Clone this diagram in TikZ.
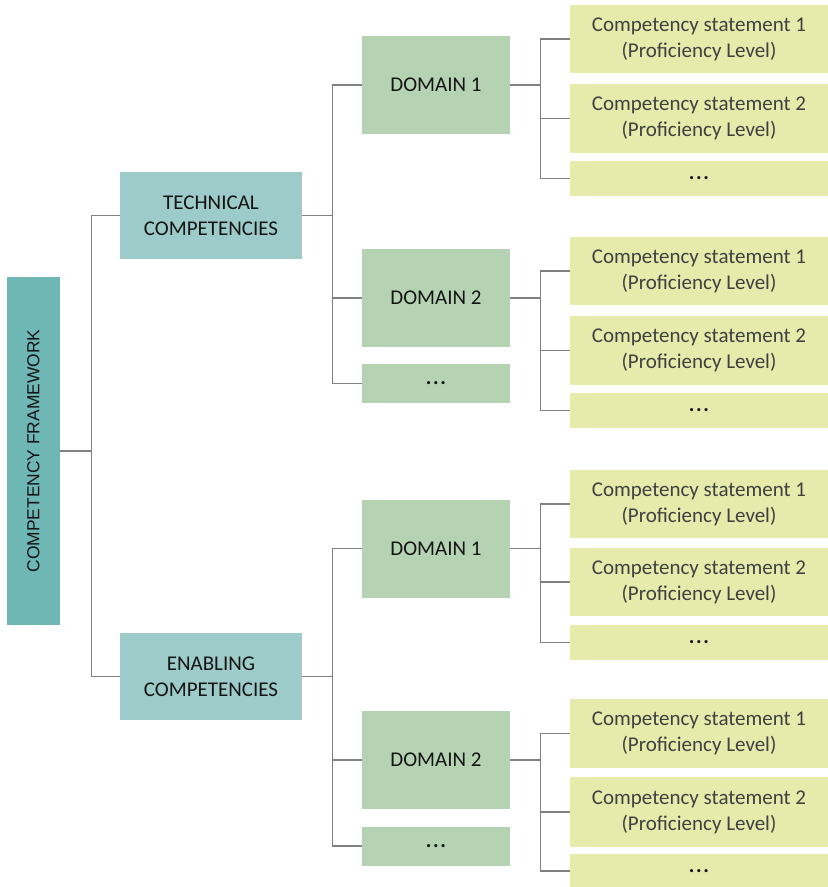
\documentclass[tikz,border=0pt]{standalone}
\usepackage{fontspec}
\setmainfont{Carlito}
\newfontfamily\arialf{Liberation Sans}
\definecolor{rootfill}{RGB}{111,183,180}
\definecolor{catfill}{RGB}{156,203,201}
\definecolor{domfill}{RGB}{181,211,179}
\definecolor{stmfill}{RGB}{230,235,172}
\definecolor{conncol}{RGB}{128,128,128}
\definecolor{txtdark}{RGB}{20,20,20}
\definecolor{txtgray}{RGB}{64,64,64}
\newcommand\mydots{\textbf{.\kern1.6pt.\kern1.6pt.}}
\tikzset{
  base/.style={draw=none, inner sep=0pt, font=\fontsize{21}{26}\selectfont},
  catbox/.style={base, align=center, fill=catfill, minimum width=182pt, minimum height=87pt, text=txtdark},
  dombox/.style={base, fill=domfill, minimum width=148pt, minimum height=98pt, text=txtdark},
  domdots/.style={dombox, minimum height=39pt},
  stmbox/.style={base, align=center, fill=stmfill, minimum width=258pt, minimum height=68pt, text=txtgray},
  stmdots/.style={base, fill=stmfill, minimum width=258pt, minimum height=35pt, text=txtdark},
  conn/.style={draw=conncol, line width=1.2pt}
}
\begin{document}
\begin{tikzpicture}[x=1pt,y=-1pt]
\useasboundingbox (0,0) rectangle (828,887);
% root (rotated: width/height swapped in rotated frame)
\node[base, fill=rootfill, minimum width=348pt, minimum height=53pt, rotate=90, text=txtdark, font=\arialf\fontsize{17.4}{21}\selectfont] (root) at (33.5,451) {COMPETENCY FRAMEWORK};
\node[catbox] (tech) at (211,215.5) {TECHNICAL\\COMPETENCIES};
\node[catbox] (enab) at (211,676.5) {ENABLING\\COMPETENCIES};
% domains
\node[dombox] (td1) at (436,85) {DOMAIN 1};
\node[dombox] (td2) at (436,298) {DOMAIN 2};
\node[domdots] (tdx) at (436,383.5) {\mydots};
\node[dombox] (ed1) at (436,548.5) {DOMAIN 1};
\node[dombox] (ed2) at (436,760) {DOMAIN 2};
\node[domdots] (edx) at (436,846) {\mydots};
% statements
\node[stmbox] (a1) at (699,39) {Competency statement 1\\(Proficiency Level)};
\node[stmbox, minimum height=69pt] (a2) at (699,118.5) {Competency statement 2\\(Proficiency Level)};
\node[stmdots] (ax) at (699,178.5) {\mydots};
\node[stmbox] (b1) at (699,271) {Competency statement 1\\(Proficiency Level)};
\node[stmbox, minimum height=69pt] (b2) at (699,350.5) {Competency statement 2\\(Proficiency Level)};
\node[stmdots] (bx) at (699,410.5) {\mydots};
\node[stmbox] (c1) at (699,504) {Competency statement 1\\(Proficiency Level)};
\node[stmbox] (c2) at (699,582) {Competency statement 2\\(Proficiency Level)};
\node[stmdots] (cx) at (699,642.5) {\mydots};
\node[stmbox, minimum height=69pt] (d1) at (699,733.5) {Competency statement 1\\(Proficiency Level)};
\node[stmbox, minimum height=70pt] (d2) at (699,812) {Competency statement 2\\(Proficiency Level)};
\node[stmdots, minimum height=34pt] (dx) at (699,871) {\mydots};
% connectors
\draw[conn] (root.south) -- ++(31,0) coordinate (j0);
\draw[conn] (j0) |- (tech.west);
\draw[conn] (j0) |- (enab.west);
\draw[conn] (tech.east) -- ++(30,0) coordinate (j1);
\draw[conn] (j1) |- (td1.west);
\draw[conn] (j1) |- (td2.west);
\draw[conn] (j1) |- (tdx.west);
\draw[conn] (enab.east) -- ++(30,0) coordinate (j2);
\draw[conn] (j2) |- (ed1.west);
\draw[conn] (j2) |- (ed2.west);
\draw[conn] (j2) |- (edx.west);
\draw[conn] (td1.east) -- ++(30,0) coordinate (k1);
\draw[conn] (k1) |- (a1.west);
\draw[conn] (k1) |- (a2.west);
\draw[conn] (k1) |- (ax.west);
\draw[conn] (td2.east) -- ++(30,0) coordinate (k2);
\draw[conn] (k2) |- (b1.west);
\draw[conn] (k2) |- (b2.west);
\draw[conn] (k2) |- (bx.west);
\draw[conn] (ed1.east) -- ++(30,0) coordinate (k3);
\draw[conn] (k3) |- (c1.west);
\draw[conn] (k3) |- (c2.west);
\draw[conn] (k3) |- (cx.west);
\draw[conn] (ed2.east) -- ++(30,0) coordinate (k4);
\draw[conn] (k4) |- (d1.west);
\draw[conn] (k4) |- (d2.west);
\draw[conn] (k4) |- (dx.west);
\end{tikzpicture}
\end{document}
